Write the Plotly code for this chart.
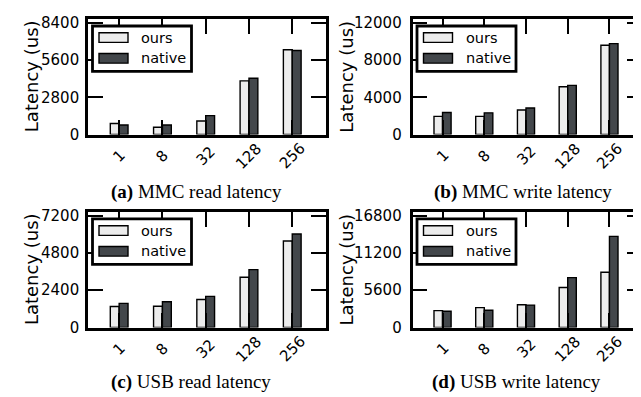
import plotly.graph_objects as go

W, H = 641, 397

# ---------------- data ----------------
categories = ["1", "8", "32", "128", "256"]

mmc_read_ours = [830, 546, 1020, 4030, 6360]
mmc_read_native = [712, 712, 1424, 4224, 6312]

mmc_write_ours = [1950, 1950, 2630, 5130, 9580]
mmc_write_native = [2360, 2330, 2840, 5270, 9750]

usb_read_ours = [1350, 1370, 1800, 3230, 5565]
usb_read_native = [1555, 1657, 2005, 3724, 6015]

usb_write_ours = [2540, 2980, 3410, 6000, 8300]
usb_write_native = [2450, 2590, 3360, 7490, 13680]

yticks_a = [0, 2800, 5600, 8400]
yticks_b = [0, 4000, 8000, 12000]
yticks_c = [0, 2400, 4800, 7200]
yticks_d = [0, 5600, 11200, 16800]

series_names = ["ours", "native"]
captions = ["(a)", "(b)", "(c)", "(d)"]
caption_texts = ["MMC read latency", "MMC write latency", "USB read latency", "USB write latency"]
y_title = "Latency (us)"

# ---------------- styles ----------------
C_OURS = "#ececec"
C_NATIVE = "#43474b"
EDGE = "black"
SANS = "DejaVu Sans"
SERIF = "Liberation Serif"

def fx(px):
    return px / W

def fy(py):
    return 1 - py / H

panels = [
    dict(l=80, r=318, t=6.5, b=126, ours=mmc_read_ours, native=mmc_read_native, ticks=yticks_a, so=3),
    dict(l=404.5, r=634, t=6.5, b=126, ours=mmc_write_ours, native=mmc_write_native, ticks=yticks_b, so=5),
    dict(l=80, r=318, t=206.5, b=326, ours=usb_read_ours, native=usb_read_native, ticks=yticks_c, so=3),
    dict(l=404.5, r=634, t=206.5, b=326, ours=usb_write_ours, native=usb_write_native, ticks=yticks_d, so=5),
]

fig = go.Figure()
shapes = []
annotations = []

caption_pos = [(188.5, 186), (515, 186), (183, 383), (508, 383)]
ytitle_pos = [(23.5, 66), (339, 66), (23.5, 266), (339, 266)]

xpos = list(range(len(categories)))

for i, p in enumerate(panels):
    n = "" if i == 0 else str(i + 1)
    xa, ya = "x" + n, "y" + n
    tmax = p["ticks"][-1]
    tick_px = 116.0
    ymax = tmax * (1 + 3.5 / tick_px)

    fig.add_trace(go.Bar(
        x=xpos, y=p["ours"], name=series_names[0], width=0.205, offset=-0.205,
        marker=dict(color=C_OURS, line=dict(color=EDGE, width=1.4)),
        xaxis=xa, yaxis=ya, showlegend=False))
    fig.add_trace(go.Bar(
        x=xpos, y=p["native"], name=series_names[1], width=0.205, offset=0,
        marker=dict(color=C_NATIVE, line=dict(color=EDGE, width=1.4)),
        xaxis=xa, yaxis=ya, showlegend=False))

    axis_common = dict(showline=True, linecolor="black", linewidth=2.6, mirror="ticks",
                       ticks="inside", ticklen=15, tickwidth=1.6, tickcolor="black",
                       showgrid=False, zeroline=False)
    fig.update_layout(**{
        ("xaxis" + n): dict(domain=[fx(p["l"]), fx(p["r"])], anchor=ya,
                            range=[-0.72, 4.78], tickvals=xpos, showticklabels=False,
                            **axis_common),
        ("yaxis" + n): dict(domain=[fy(p["b"]), fy(p["t"])], anchor=xa,
                            range=[0, ymax], tickvals=p["ticks"],
                            ticktext=[str(v) for v in p["ticks"]],
                            ticklabelstandoff=p["so"],
                            tickfont=dict(family=SANS, size=15, color="black"),
                            **axis_common),
    })

    for k, lab in enumerate(categories):
        annotations.append(dict(
            x=k, y=fy(p["b"] + 22), xref=xa, yref="paper", text=lab, showarrow=False,
            textangle=-45, xanchor="center", yanchor="middle",
            font=dict(family=SANS, size=15, color="black")))

    tx, ty = ytitle_pos[i]
    annotations.append(dict(
        x=fx(tx), y=fy(ty), xref="paper", yref="paper", text=y_title, showarrow=False,
        textangle=-90, xanchor="center", yanchor="middle",
        font=dict(family=SANS, size=18, color="black")))

    cx, cy = caption_pos[i]
    annotations.append(dict(
        x=fx(cx), y=fy(cy), xref="paper", yref="paper",
        text="<b>" + captions[i] + "</b> " + caption_texts[i], showarrow=False,
        xanchor="center", yanchor="middle",
        font=dict(family=SERIF, size=19, color="black")))

    L, T = p["l"], p["t"]
    shapes.append(dict(type="rect", xref="paper", yref="paper",
                       x0=fx(L + 4.5), x1=fx(L + 103.5), y0=fy(T + 54), y1=fy(T + 7),
                       line=dict(color="black", width=2.8), fillcolor="white", layer="above"))
    for j, (col, name) in enumerate([(C_OURS, series_names[0]), (C_NATIVE, series_names[1])]):
        y0 = T + 14 + j * 21.5
        shapes.append(dict(type="rect", xref="paper", yref="paper",
                           x0=fx(L + 11), x1=fx(L + 40), y0=fy(y0 + 10), y1=fy(y0),
                           line=dict(color="black", width=1.4), fillcolor=col, layer="above"))
        annotations.append(dict(
            x=fx(L + 51), y=fy(y0 + 5), xref="paper", yref="paper", text=name,
            showarrow=False, xanchor="left", yanchor="middle",
            font=dict(family=SANS, size=14.5, color="black")))

fig.update_layout(
    width=W, height=H, margin=dict(l=0, r=0, t=0, b=0),
    paper_bgcolor="white", plot_bgcolor="white",
    barmode="overlay", showlegend=False,
    shapes=shapes, annotations=annotations,
)

fig.write_html("out.html")
